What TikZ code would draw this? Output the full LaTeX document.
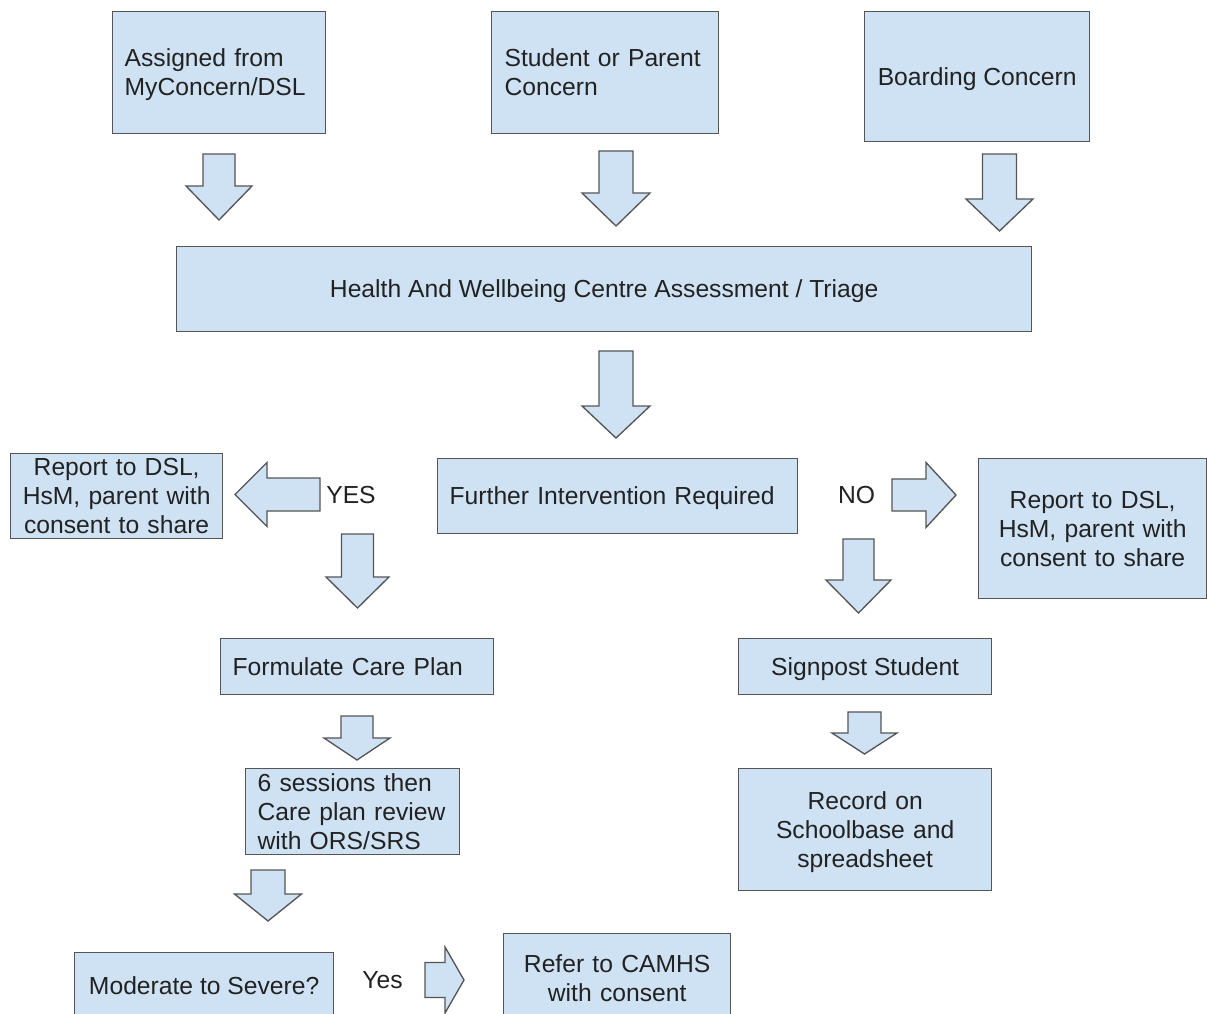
\documentclass[tikz,border=0pt]{standalone}
\usepackage{fontspec}
\setmainfont{Liberation Sans}
\newlength\pxu
\setlength\pxu{0.75pt}
\definecolor{boxc}{HTML}{CFE2F3}
\definecolor{bordc}{HTML}{555555}
\definecolor{txtc}{HTML}{222222}
\newcommand\fsz{\fontsize{18.5pt}{21.75pt}\selectfont}
% vertical block arrow: cx, top, shoulder, tip, shaft half width, head half width
\newcommand\blkv[6]{%
  \draw[blk] ({#1-#5},#2) -- ({#1+#5},#2) -- ({#1+#5},#3) -- ({#1+#6},#3)
    -- (#1,#4) -- ({#1-#6},#3) -- ({#1-#5},#3) -- cycle;}
% horizontal block arrow: cy, start, shoulder, tip, shaft half width, head half width
\newcommand\blkh[6]{%
  \draw[blk] (#2,{#1-#5}) -- (#3,{#1-#5}) -- (#3,{#1-#6}) -- (#4,#1)
    -- (#3,{#1+#6}) -- (#3,{#1+#5}) -- (#2,{#1+#5}) -- cycle;}
\tikzset{
  box/.style={draw=bordc, fill=boxc, line width=1pt, inner sep=0pt,
    anchor=north west, font=\fsz, text=txtc, align=center,
    execute at begin node={\rule{0pt}{22\pxu}},
    execute at end node={\rule[-5\pxu]{0pt}{0pt}}},
  wh/.style 2 args={minimum width=#1\pxu, minimum height=#2\pxu},
  ltxt/.style={align=left, text width=#1\pxu},
  ctxt/.style={align=center, text width=#1\pxu},
  blk/.style={draw=bordc, fill=boxc, line width=1pt, line join=miter},
  lbl/.style={font=\fsz, text=txtc, inner sep=0pt}
}
\begin{document}
\begin{tikzpicture}[x=0.75pt, y=-0.75pt]
\useasboundingbox (0,0) rectangle (1207,1014);
\fill[white] (0,0) rectangle (1207,1014);
\clip (0,0) rectangle (1207,1014);

% top row
\node[box, wh={213}{122}, ltxt=189] (assigned) at (112,11)
  {\mbox{Assigned from}\\\mbox{MyConcern/DSL}};
\node[box, wh={227}{122}, ltxt=201] (student) at (491,11)
  {\mbox{Student or Parent}\\\mbox{Concern}};
\node[box, wh={225}{130}] (boarding) at (864,11) {Boarding Concern};

\blkv{219}{154}{186}{220}{16}{33}
\blkv{616}{151}{193}{226}{17}{34}
\blkv{999.5}{154}{199}{231}{17}{33.5}

\node[box, wh={855}{85}] (health) at (176,246)
  {Health And Wellbeing Centre Assessment / Triage};

\blkv{616}{351}{406}{438}{17}{34}

% decision row
\node[box, wh={360}{75}, ltxt=336] (further) at (437,458)
  {\mbox{Further Intervention Required}};
\node[box, wh={212}{85}, ctxt=200] (repl) at (10,453)
  {\mbox{Report to DSL,}\\\mbox{HsM, parent with}\\\mbox{consent to share}};
\node[box, wh={228}{140}, ctxt=204] (repr) at (978,458)
  {\mbox{Report to DSL,}\\\mbox{HsM, parent with}\\\mbox{consent to share}};

\node[lbl] (yes) at (351,495) {YES};
\node[lbl] (no) at (856.5,495) {NO};

\blkh{494.5}{320}{267}{235}{16.5}{32}
\blkh{495}{892}{926}{956}{16}{32.5}
\blkv{357.5}{534}{577}{608}{16}{31.5}
\blkv{858.5}{539}{580}{613}{15.5}{32.5}

% left branch
\node[box, wh={273}{56}, ltxt=249] (care) at (220,638)
  {\mbox{Formulate Care Plan}};
\blkv{357}{716}{738}{760}{16}{33}
\node[box, wh={214}{86}, ltxt=190] (sessions) at (245,768)
  {\mbox{6 sessions then}\\\mbox{Care plan review}\\\mbox{with ORS/SRS}};
\blkv{268}{870}{894}{921}{17}{33.5}
\node[box, wh={259}{66}] (moderate) at (74,952) {Moderate to Severe?};
\node[lbl] (yes2) at (382.5,980) {Yes};
\blkh{980}{425}{445}{464}{17.5}{33}
\node[box, wh={227}{89}, ctxt=203] (camhs) at (503,933)
  {\mbox{Refer to CAMHS}\\\mbox{with consent}};

% right branch
\node[box, wh={253}{56}] (signpost) at (738,638) {Signpost Student};
\blkv{864.5}{712}{733}{754}{16.5}{32.5}
\node[box, wh={253}{122}, ctxt=229] (record) at (738,768)
  {\mbox{Record on}\\\mbox{Schoolbase and}\\\mbox{spreadsheet}};
\end{tikzpicture}
\end{document}
